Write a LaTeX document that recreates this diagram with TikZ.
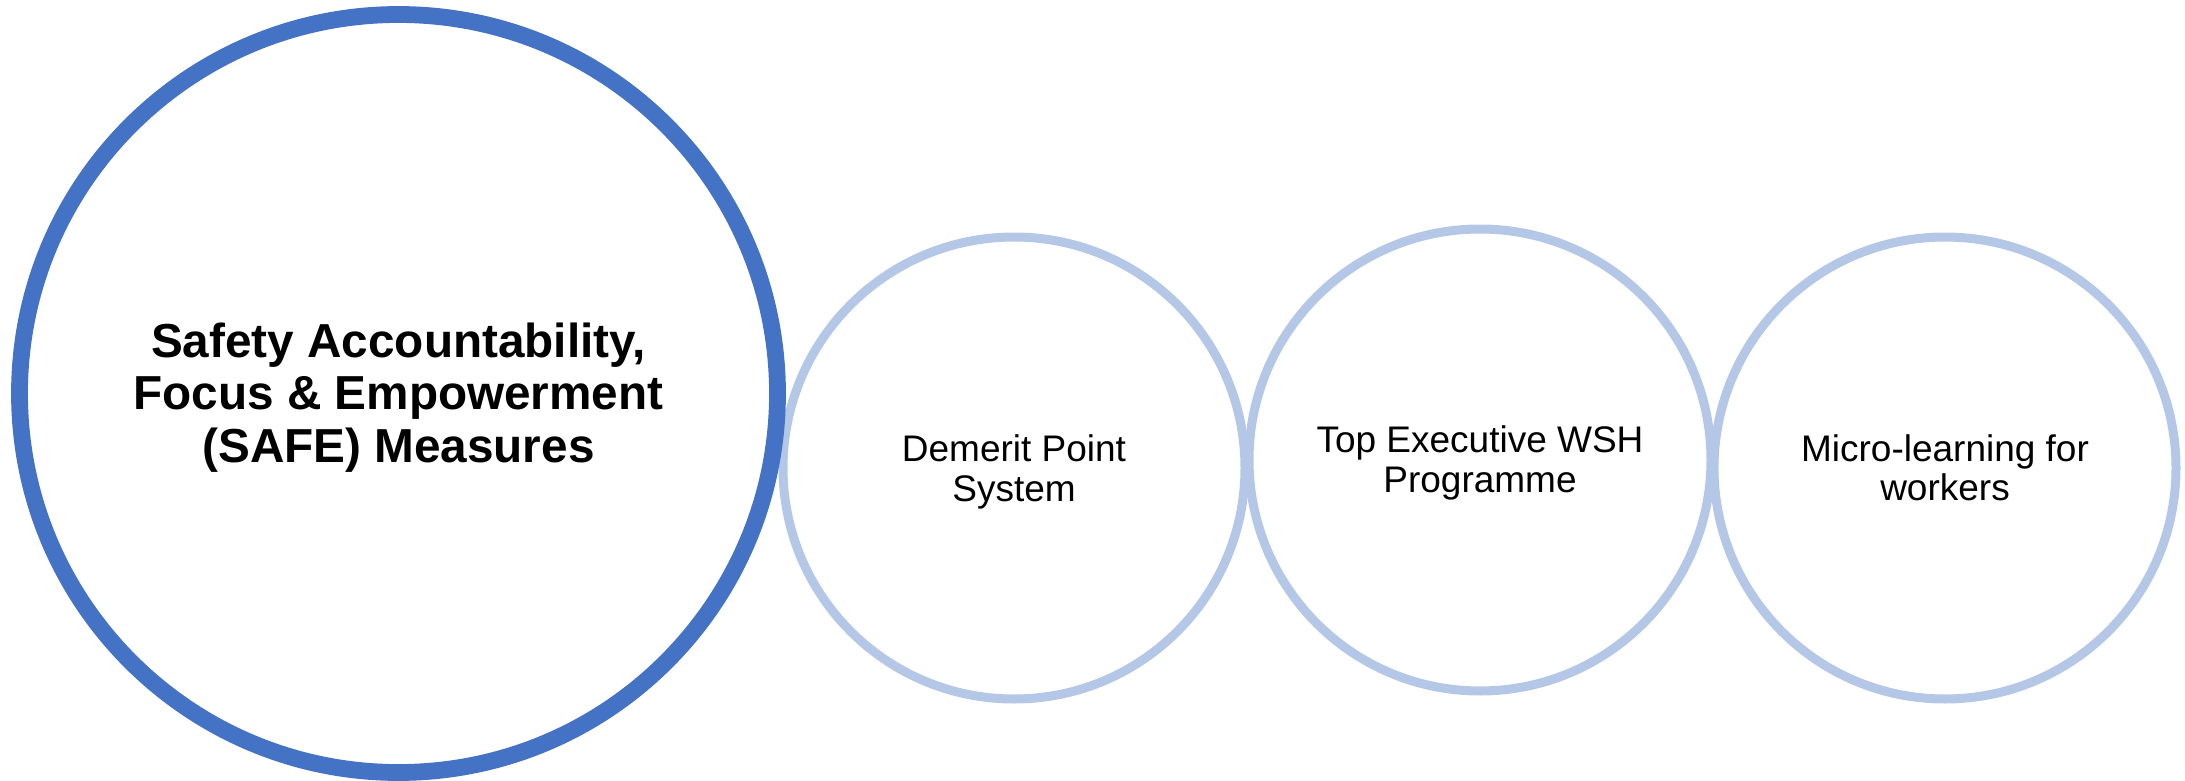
\documentclass[tikz,border=0pt]{standalone}
\usepackage{fontspec}
\setmainfont{Liberation Sans}
\definecolor{darkblue}{HTML}{4472C4}
\definecolor{lightblue}{HTML}{B4C7E7}
\begin{document}
\begin{tikzpicture}[x=0.5pt,y=-0.5pt,
  bigcirc/.style={circle, draw=darkblue, line width=8.4pt, minimum size=379pt, inner sep=0pt},
  smallcirc/.style={circle, draw=lightblue, line width=4.5pt, minimum size=231pt, inner sep=0pt},
  bigtext/.style={align=center, font=\fontsize{23.85pt}{26.4pt}\selectfont\bfseries, inner sep=0pt},
  smalltext/.style={align=center, font=\fontsize{18.5pt}{19.7pt}\selectfont, inner sep=0pt}]
\useasboundingbox (0,0) rectangle (2185,781);
\node[smallcirc] (c1) at (1014,468) {};
\node[smallcirc] (c2) at (1480,460) {};
\node[smallcirc] (c3) at (1945,468) {};
\node[bigcirc] (c0) at (398.5,393.5) {};
\node[bigtext] (t0) at ([yshift=-2pt]c0.center) {Safety Accountability,\\Focus \& Empowerment\\(SAFE) Measures};
\node[smalltext] (t1) at ([yshift=-2pt]c1.center) {Demerit Point\\System};
\node[smalltext] (t2) at ([yshift=-1.5pt]c2.center) {Top Executive WSH\\Programme};
\node[smalltext] (t3) at (c3.center) {Micro-learning for\\workers};
\end{tikzpicture}
\end{document}
